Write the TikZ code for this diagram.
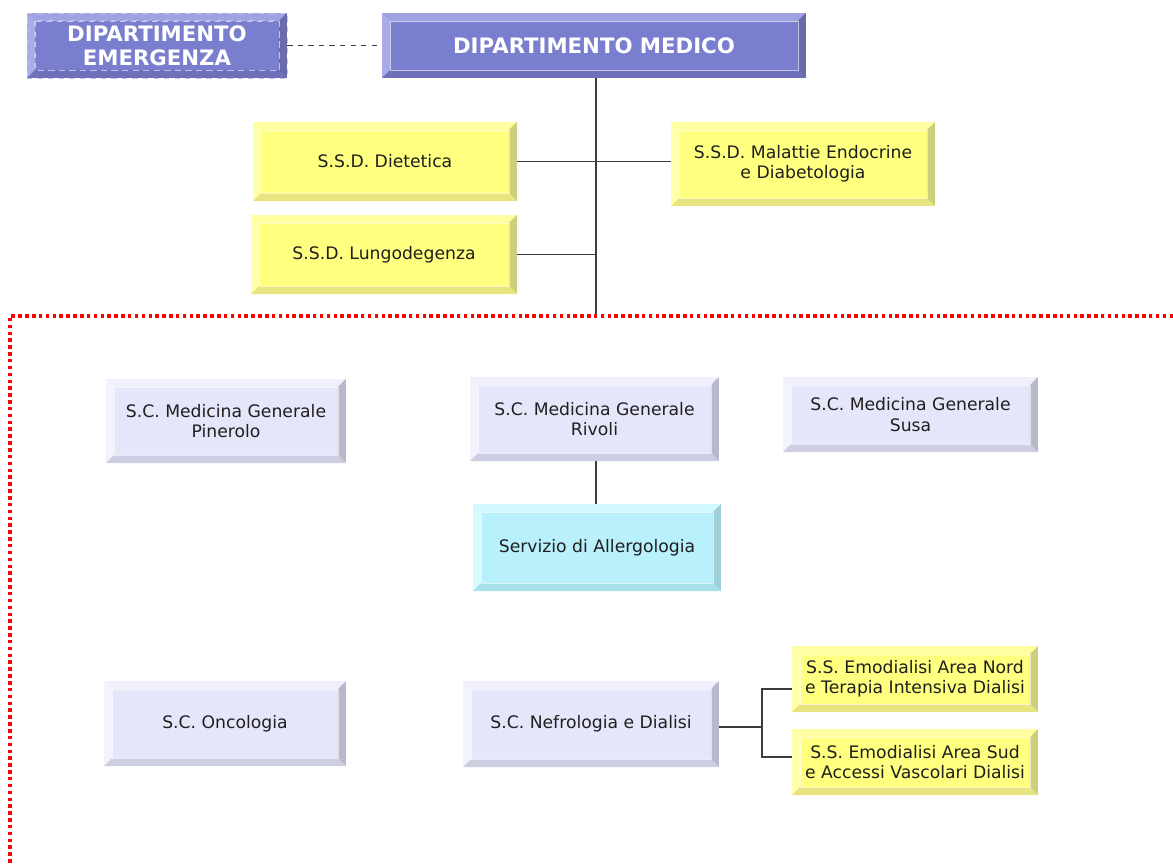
\documentclass[tikz,border=0pt]{standalone}
\usepackage{fontspec}
\setmainfont{DejaVu Sans}
\usetikzlibrary{calc}

\definecolor{hdface}{RGB}{122,126,206}
\definecolor{hdtop}{RGB}{160,162,226}
\definecolor{hdleft}{RGB}{170,172,232}
\definecolor{hdright}{RGB}{106,108,170}
\definecolor{hdbottom}{RGB}{110,112,186}
\definecolor{hddash}{RGB}{190,192,240}
\definecolor{ssdface}{RGB}{255,255,128}
\definecolor{ssdtop}{RGB}{255,255,162}
\definecolor{ssdleft}{RGB}{255,255,172}
\definecolor{ssdright}{RGB}{206,206,124}
\definecolor{ssdbottom}{RGB}{232,228,128}
\definecolor{scface}{RGB}{230,230,250}
\definecolor{sctop}{RGB}{240,240,253}
\definecolor{scleft}{RGB}{243,243,255}
\definecolor{scright}{RGB}{184,184,204}
\definecolor{scbottom}{RGB}{206,206,226}
\definecolor{srvface}{RGB}{184,240,252}
\definecolor{srvtop}{RGB}{210,248,255}
\definecolor{srvleft}{RGB}{216,250,255}
\definecolor{srvright}{RGB}{160,206,214}
\definecolor{srvbottom}{RGB}{168,224,234}
\definecolor{linkgray}{RGB}{60,60,60}

\def\bw{0.16cm}
\newcommand{\bevelsides}[4]{%
  \coordinate (bvnw) at (path picture bounding box.north west);
  \coordinate (bvne) at (path picture bounding box.north east);
  \coordinate (bvsw) at (path picture bounding box.south west);
  \coordinate (bvse) at (path picture bounding box.south east);
  \fill[#1] (bvnw) -- (bvne) -- ([shift={(-\bw,-\bw)}]bvne) -- ([shift={(\bw,-\bw)}]bvnw) -- cycle;
  \fill[#2] (bvnw) -- ([shift={(\bw,-\bw)}]bvnw) -- ([shift={(\bw,\bw)}]bvsw) -- (bvsw) -- cycle;
  \fill[#3] (bvne) -- (bvse) -- ([shift={(-\bw,\bw)}]bvse) -- ([shift={(-\bw,-\bw)}]bvne) -- cycle;
  \fill[#4] (bvsw) -- (bvse) -- ([shift={(-\bw,\bw)}]bvse) -- ([shift={(\bw,\bw)}]bvsw) -- cycle;
  \draw[white, opacity=0.6, line width=0.3pt] ([shift={(\bw,-\bw)}]bvnw) rectangle ([shift={(-\bw,\bw)}]bvse);
}

\tikzset{
  box/.style={rectangle, align=center, inner sep=0pt, text=black!88,
    font=\fontsize{9.8}{11.6}\selectfont},
  bevel/.style n args={5}{fill=#1, path picture={\bevelsides{#2}{#3}{#4}{#5}}},
  deptbox/.style={box, bevel={hdface}{hdtop}{hdleft}{hdright}{hdbottom},
    text=white, font=\bfseries\fontsize{12.1}{13.8}\selectfont},
  ssdbox/.style={box, bevel={ssdface}{ssdtop}{ssdleft}{ssdright}{ssdbottom}},
  scbox/.style={box, bevel={scface}{sctop}{scleft}{scright}{scbottom}},
  srvbox/.style={box, bevel={srvface}{srvtop}{srvleft}{srvright}{srvbottom}},
  link/.style={draw=linkgray, line width=0.7pt},
  frame/.style={draw=red, line width=2pt, dash pattern=on 2pt off 1.9pt}
}

\begin{document}
\begin{tikzpicture}[x=0.02cm, y=-0.02cm]
  \useasboundingbox (0,0) rectangle (1173,863);

  % departments
  \node[deptbox, minimum width=5.2cm, minimum height=1.3cm,
    draw=hddash, dashed] (emer) at (157,45.5) {DIPARTIMENTO\\EMERGENZA};
  \draw[hddash, dashed] ([shift={(\bw,-\bw)}]emer.north west) rectangle ([shift={(-\bw,\bw)}]emer.south east);
  \node[deptbox, minimum width=8.48cm, minimum height=1.3cm] (medico) at (594,45.5) {DIPARTIMENTO MEDICO};

  % staff units
  \node[ssdbox, minimum width=5.28cm, minimum height=1.58cm] (diet) at (385,161.5) {S.S.D. Dietetica};
  \node[ssdbox, minimum width=5.28cm, minimum height=1.68cm] (endo) at (803,164) {S.S.D. Malattie Endocrine\\e Diabetologia};
  \node[ssdbox, minimum width=5.32cm, minimum height=1.58cm] (lungo) at (384,254.5) {S.S.D. Lungodegenza};

  % complex units
  \node[scbox, minimum width=4.8cm, minimum height=1.68cm] (pinerolo) at (226,421) {S.C. Medicina Generale\\Pinerolo};
  \node[scbox, minimum width=4.98cm, minimum height=1.68cm] (rivoli) at (594.5,419) {S.C. Medicina Generale\\Rivoli};
  \node[scbox, minimum width=5.1cm, minimum height=1.5cm] (susa) at (910.5,414.5) {S.C. Medicina Generale\\Susa};
  \node[srvbox, minimum width=4.96cm, minimum height=1.74cm] (allerg) at (597,547.5) {Servizio di Allergologia};
  \node[scbox, minimum width=4.84cm, minimum height=1.7cm] (onco) at (225,723.5) {S.C. Oncologia};
  \node[scbox, minimum width=5.12cm, minimum height=1.72cm] (nefro) at (591,724) {S.C. Nefrologia e Dialisi};
  \node[ssdbox, minimum width=4.92cm, minimum height=1.32cm] (nord) at (915,679) {S.S. Emodialisi Area Nord\\e Terapia Intensiva Dialisi};
  \node[ssdbox, minimum width=4.92cm, minimum height=1.32cm] (sud) at (915,762) {S.S. Emodialisi Area Sud\\e Accessi Vascolari Dialisi};

  % connectors
  \coordinate (trunk) at (596,316);
  \coordinate (fork) at (762,727);
  \draw[link, dashed] (emer.east) -- (medico.west);
  \draw[link] (medico.south -| trunk) -- (trunk);
  \draw[link] (diet.east) -- (diet.east -| endo.west);
  \draw[link] (lungo.east) -- (lungo.east -| trunk);
  \draw[link] (rivoli.south -| trunk) -- (allerg.north -| trunk);
  \draw[link] (nefro.east |- fork) -- (fork);
  \draw[link] ([yshift=-0.2cm]nord.west) -| (fork) |- ([yshift=0.1cm]sud.west);

  % area frame
  \draw[frame] (1173,316) -| (10,863);
\end{tikzpicture}
\end{document}
